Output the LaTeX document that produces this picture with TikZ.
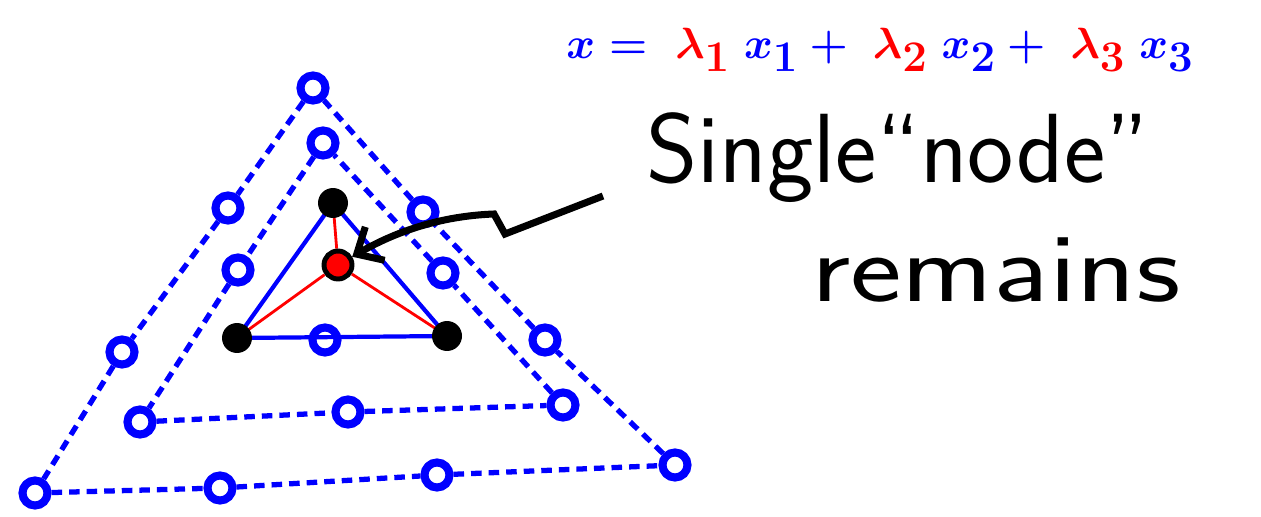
\documentclass[tikz,border=0pt]{standalone}
\usepackage{amsmath}
\usepackage{xcolor}
\usepackage{tikz}
\usetikzlibrary{arrows.meta,backgrounds}

\begin{document}
\begin{tikzpicture}[
    x=0.02cm, y=-0.02cm,
    ring/.style ={circle,draw=blue,line width=4.6pt,minimum size=0.5cm,inner sep=0pt},
    vert/.style ={circle,fill=black,minimum size=0.6cm,inner sep=0pt},
    hub/.style  ={circle,fill=red,draw=black,line width=2.8pt,minimum size=0.56cm,inner sep=0pt},
    rim/.style  ={blue,line width=3pt,dash pattern=on 6pt off 4pt},
    side/.style ={blue,line width=2.4pt},
    spoke/.style={red,line width=1.6pt},
    pointer/.style={line width=4pt,-{Straight Barb[length=12pt,width=22pt]}},
  ]
  \useasboundingbox (0,0) rectangle (1261,517);

  % outer triangle
  \foreach \n/\x/\y in {o1/313/88, o2/228/208, o3/122/352, o4/35/493, o5/220/488,
                        o6/437/475, o7/675/465, o8/545/340, o9/423/212}
     \node[ring] (\n) at (\x,\y) {};
  \foreach \a/\b in {o1/o2,o2/o3,o3/o4,o4/o5,o5/o6,o6/o7,o7/o8,o8/o9,o9/o1}
     \draw[rim] (\a) -- (\b);

  % middle triangle
  \foreach \n/\x/\y in {m1/323/143, m2/238/270, m3/140/422, m4/348/412,
                        m5/563/405, m6/443/273}
     \node[ring] (\n) at (\x,\y) {};
  \foreach \a/\b in {m1/m2,m2/m3,m3/m4,m4/m5,m5/m6,m6/m1}
     \draw[rim] (\a) -- (\b);

  % inner triangle (the one that is left)
  \node[vert] (t) at (333,203) {};
  \node[vert] (l) at (237,338) {};
  \node[vert] (r) at (447,336) {};
  \node[hub]  (c) at (338,265) {};
  \begin{scope}[on background layer]
    \draw[side] (t.center) -- (l.center) -- (r.center) -- cycle;
    \foreach \v in {t,l,r}
       \draw[spoke] (c) -- (\v.center);
  \end{scope}
  \node[ring] (b) at (325,340) {};

  % formula
  \node[font=\fontsize{52}{56}\selectfont\boldmath] (eq) at (880,50)
     {$\color{blue}x = \;\color{red}\lambda_1\;\color{blue}x_1 + \;\color{red}\lambda_2\;\color{blue}x_2 + \;\color{red}\lambda_3\;\color{blue}x_3$};

  % label and pointer
  \node[font=\sffamily\fontsize{56}{60}\selectfont,anchor=west] (lbl) at (640,158) {Single``node''};
  \node[font=\sffamily\fontsize{56}{60}\selectfont,anchor=west] (rem) at (805,270) {\scalebox{1.25}[1]{remains}};
  \coordinate (tail) at (603,196);
  \draw[pointer] (tail) -- (505,234) -- (494,214) .. controls (440,216) and (395,232) .. (c);
\end{tikzpicture}
\end{document}
